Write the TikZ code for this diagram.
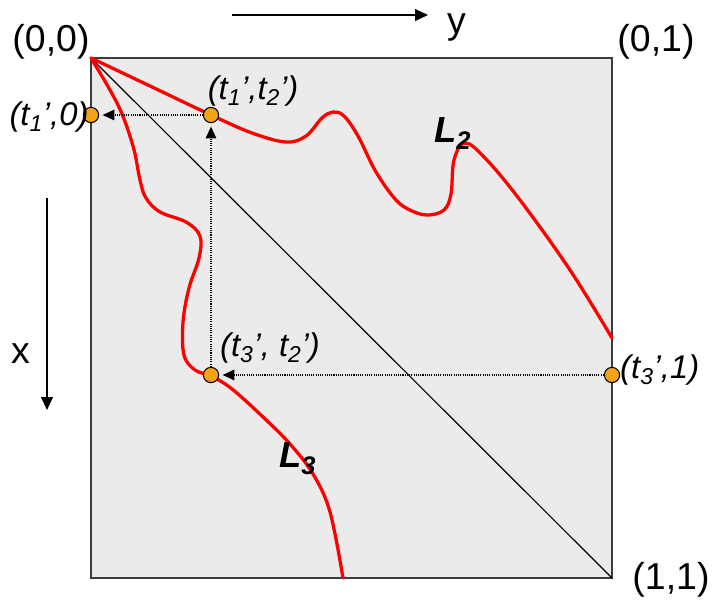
\documentclass[tikz,border=0pt]{standalone}
\usepackage{fontspec}
\setmainfont{Liberation Sans}
\usetikzlibrary{arrows.meta}
\definecolor{ptorange}{HTML}{F5A316}
\definecolor{boxgray}{HTML}{EBEBEB}
\definecolor{boxedge}{HTML}{3C3C3C}

\begin{document}
\begin{tikzpicture}[
  x=0.03cm, y=-0.03cm, >={Triangle[length=11pt,width=10pt]},
  corner/.style={font=\fontsize{32}{36}\selectfont, inner sep=0pt},
  lbl/.style={font=\fontsize{28}{32}\selectfont\itshape, inner sep=0pt},
  curvename/.style={font=\fontsize{31}{34}\selectfont\bfseries\itshape, inner sep=0pt},
  pt/.style={circle, draw=black, line width=0.9pt, fill=ptorange, minimum size=13pt, inner sep=0pt},
  curve/.style={red, line width=2.8pt, line cap=round},
  guide/.style={densely dotted, line width=0.9pt, -{Triangle[length=10pt,width=9pt]}, shorten >=3pt},
  axis/.style={line width=1.2pt, ->}
]
\useasboundingbox (0,0) rectangle (715,604);

% unit square
\coordinate (O) at (91,58);
\coordinate (E) at (612,578);
\draw[fill=boxgray, draw=boxedge, line width=1.3pt] (O) rectangle (E);
\draw[line width=1pt] (O) -- (E);

% curves
\draw[curve] plot[smooth, tension=0.6] coordinates {
  (91,58) (150,86) (211,115) (252,133) (286,142) (306,136) (322,118)
  (333,112) (344,116) (358,136) (376,172) (396,200) (412,211) (428,215)
  (444,210) (451,194) (454,160) (465,143) (485,158) (520,200) (570,270) (612,338)};
\draw[curve] plot[smooth, tension=0.6] coordinates {
  (91,58) (118,105) (133,146) (140,180) (146,198) (160,212) (186,222)
  (200,236) (199,258) (189,288) (183,322) (184,355) (195,370) (211,376)
  (232,389) (263,417) (290,444) (313,474) (330,512) (343,578)};

% points
\node[pt] (p12) at (211,115) {};
\node[pt] (p10) at (91,115) {};
\node[pt] (p32) at (211,375) {};
\node[pt] (p31) at (612,375) {};

\draw[guide] (p12) -- (p10);
\draw[guide] (p32) -- (p12);
\draw[guide] (p31) -- (p32);

% axes
\coordinate (ystart) at (232,15);
\coordinate (yend) at (428,15);
\draw[axis] (ystart) -- (yend);
\coordinate (xstart) at (47,198);
\coordinate (xend) at (47,410);
\draw[axis] (xstart) -- (xend);
\node[corner, anchor=base west] (ylabel) at (447,33) {y};
\node[corner, anchor=base west] (xlabel) at (11,363) {x};

% corners
\node[corner] (c00) at (51,42) {(0,0)};
\node[corner] (c01) at (656,42) {(0,1)};
\node[corner] (c11) at (671,580) {(1,1)};

% point labels
\node[lbl] (l12) at (253,91) {(t\textsubscript{1}',t\textsubscript{2}')};
\node[lbl] (l10) at (49,117) {(t\textsubscript{1}',0)};
\node[lbl] (l32) at (270,348) {(t\textsubscript{3}', t\textsubscript{2}')};
\node[lbl, anchor=west] (l31) at (620,370) {(t\textsubscript{3}',1)};

% curve names
\node[curvename, anchor=base west] (nL2) at (434,142) {L\textsubscript{2}};
\node[curvename, anchor=base west] (nL3) at (279,467) {L\textsubscript{3}};
\end{tikzpicture}
\end{document}
